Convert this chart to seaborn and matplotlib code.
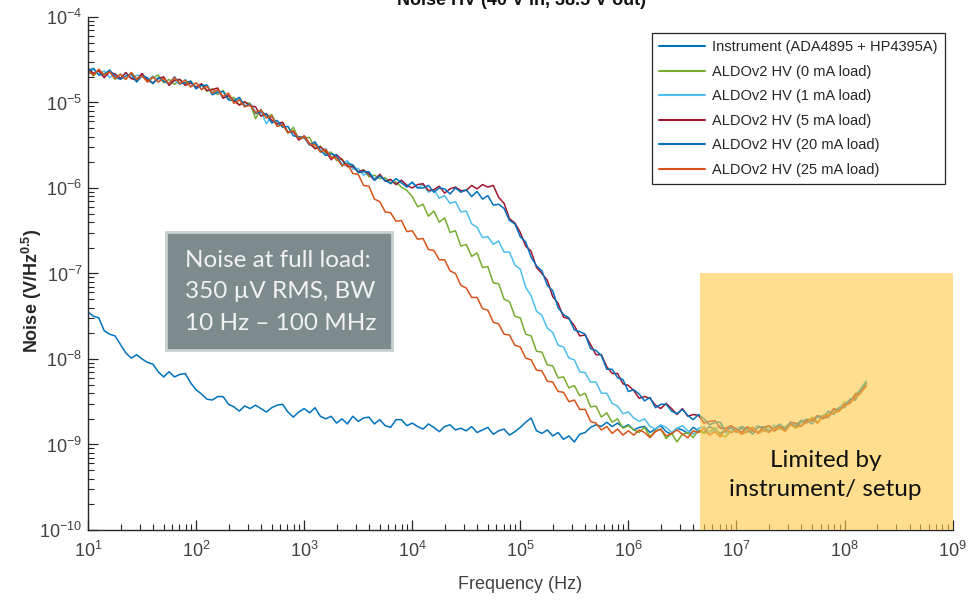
import numpy as np
import pandas as pd
import seaborn as sns
import matplotlib.pyplot as plt
from matplotlib.patches import Rectangle

# log10 of frequency (Hz), one sample every 0.05 decade
freq_exp = [1.00, 1.05, 1.10, 1.15, 1.20, 1.25, 1.30, 1.35, 1.40, 1.45,
            1.50, 1.55, 1.60, 1.65, 1.70, 1.75, 1.80, 1.85, 1.90, 1.95,
            2.00, 2.05, 2.10, 2.15, 2.20, 2.25, 2.30, 2.35, 2.40, 2.45,
            2.50, 2.55, 2.60, 2.65, 2.70, 2.75, 2.80, 2.85, 2.90, 2.95,
            3.00, 3.05, 3.10, 3.15, 3.20, 3.25, 3.30, 3.35, 3.40, 3.45,
            3.50, 3.55, 3.60, 3.65, 3.70, 3.75, 3.80, 3.85, 3.90, 3.95,
            4.00, 4.05, 4.10, 4.15, 4.20, 4.25, 4.30, 4.35, 4.40, 4.45,
            4.50, 4.55, 4.60, 4.65, 4.70, 4.75, 4.80, 4.85, 4.90, 4.95,
            5.00, 5.05, 5.10, 5.15, 5.20, 5.25, 5.30, 5.35, 5.40, 5.45,
            5.50, 5.55, 5.60, 5.65, 5.70, 5.75, 5.80, 5.85, 5.90, 5.95,
            6.00, 6.05, 6.10, 6.15, 6.20, 6.25, 6.30, 6.35, 6.40, 6.45,
            6.50, 6.55, 6.60, 6.65, 6.70, 6.75, 6.80, 6.85, 6.90, 6.95,
            7.00, 7.05, 7.10, 7.15, 7.20, 7.25, 7.30, 7.35, 7.40, 7.45,
            7.50, 7.55, 7.60, 7.65, 7.70, 7.75, 7.80, 7.85, 7.90, 7.95,
            8.00, 8.05, 8.10, 8.15, 8.20]

# log10 of noise density (V/Hz^0.5)
instrument = [-7.45, -7.50, -7.52, -7.67, -7.71, -7.73, -7.83, -7.93, -7.99, -7.95,
              -8.00, -8.04, -8.06, -8.15, -8.21, -8.15, -8.21, -8.18, -8.17, -8.28,
              -8.36, -8.41, -8.47, -8.48, -8.44, -8.44, -8.53, -8.56, -8.61, -8.55,
              -8.58, -8.54, -8.58, -8.62, -8.57, -8.54, -8.53, -8.62, -8.68, -8.62,
              -8.58, -8.63, -8.57, -8.67, -8.70, -8.67, -8.75, -8.70, -8.76, -8.67,
              -8.73, -8.69, -8.68, -8.76, -8.71, -8.78, -8.80, -8.71, -8.71, -8.78,
              -8.75, -8.79, -8.82, -8.76, -8.80, -8.85, -8.79, -8.77, -8.83, -8.81,
              -8.84, -8.79, -8.86, -8.83, -8.80, -8.88, -8.84, -8.82, -8.89, -8.85,
              -8.80, -8.74, -8.69, -8.84, -8.87, -8.83, -8.90, -8.86, -8.94, -8.90,
              -8.97, -8.88, -8.86, -8.80, -8.77, -8.79, -8.74, -8.79, -8.75, -8.80,
              -8.77, -8.83, -8.80, -8.79, -8.86, -8.82, -8.78, -8.85, -8.88, -8.81,
              -8.83, -8.87, -8.80, -8.84, -8.86, -8.79, -8.82, -8.87, -8.83, -8.80,
              -8.84, -8.81, -8.86, -8.83, -8.78, -8.82, -8.85, -8.80, -8.79, -8.83,
              -8.76, -8.77, -8.72, -8.75, -8.70, -8.68, -8.66, -8.68, -8.61, -8.59,
              -8.52, -8.50, -8.42, -8.36, -8.27]
load_0ma = [-4.62, -4.69, -4.62, -4.68, -4.63, -4.73, -4.67, -4.73, -4.65, -4.72,
            -4.68, -4.76, -4.71, -4.68, -4.77, -4.73, -4.79, -4.73, -4.79, -4.75,
            -4.83, -4.79, -4.87, -4.84, -4.91, -4.86, -4.96, -4.94, -5.03, -5.00,
            -5.01, -5.19, -5.08, -5.18, -5.14, -5.26, -5.25, -5.36, -5.29, -5.43,
            -5.41, -5.41, -5.54, -5.51, -5.60, -5.58, -5.68, -5.66, -5.74, -5.73,
            -5.81, -5.79, -5.87, -5.85, -5.89, -5.88, -5.94, -5.93, -5.99, -6.03,
            -6.10, -6.22, -6.19, -6.33, -6.27, -6.40, -6.35, -6.52, -6.50, -6.68,
            -6.66, -6.80, -6.76, -6.93, -6.92, -7.11, -7.12, -7.30, -7.33, -7.50,
            -7.52, -7.71, -7.73, -7.91, -7.92, -8.07, -8.08, -8.22, -8.21, -8.34,
            -8.31, -8.43, -8.40, -8.56, -8.55, -8.68, -8.63, -8.74, -8.70, -8.81,
            -8.78, -8.83, -8.86, -8.80, -8.91, -8.84, -8.82, -8.93, -8.87, -8.97,
            -8.88, -8.86, -8.92, -8.83, -8.87, -8.85, -8.80, -8.89, -8.91, -8.84,
            -8.83, -8.88, -8.81, -8.80, -8.87, -8.84, -8.78, -8.85, -8.80, -8.79,
            -8.76, -8.81, -8.74, -8.73, -8.68, -8.74, -8.66, -8.65, -8.61, -8.59,
            -8.50, -8.52, -8.40, -8.38, -8.28]
load_1ma = [-4.67, -4.61, -4.67, -4.63, -4.71, -4.66, -4.72, -4.65, -4.72, -4.68,
            -4.69, -4.75, -4.69, -4.76, -4.71, -4.79, -4.74, -4.79, -4.73, -4.81,
            -4.77, -4.84, -4.79, -4.89, -4.86, -4.95, -4.91, -4.99, -4.95, -5.05,
            -5.02, -5.11, -5.10, -5.25, -5.16, -5.26, -5.24, -5.35, -5.33, -5.42,
            -5.40, -5.49, -5.48, -5.58, -5.54, -5.64, -5.63, -5.72, -5.68, -5.78,
            -5.77, -5.85, -5.82, -5.89, -5.85, -5.92, -5.90, -5.96, -5.91, -5.97,
            -5.94, -6.00, -5.96, -6.05, -6.02, -6.12, -6.09, -6.18, -6.16, -6.28,
            -6.27, -6.42, -6.46, -6.58, -6.57, -6.66, -6.62, -6.75, -6.75, -6.90,
            -6.95, -7.16, -7.26, -7.44, -7.49, -7.64, -7.69, -7.84, -7.86, -7.99,
            -8.01, -8.15, -8.16, -8.27, -8.27, -8.40, -8.40, -8.52, -8.55, -8.64,
            -8.62, -8.69, -8.73, -8.70, -8.79, -8.82, -8.77, -8.80, -8.86, -8.81,
            -8.78, -8.84, -8.88, -8.81, -8.79, -8.86, -8.83, -8.78, -8.87, -8.84,
            -8.81, -8.79, -8.86, -8.84, -8.78, -8.85, -8.82, -8.77, -8.83, -8.80,
            -8.74, -8.78, -8.75, -8.70, -8.73, -8.67, -8.66, -8.69, -8.60, -8.57,
            -8.52, -8.48, -8.42, -8.35, -8.25]
load_5ma = [-4.60, -4.66, -4.63, -4.71, -4.64, -4.67, -4.72, -4.65, -4.72, -4.74,
            -4.66, -4.74, -4.77, -4.72, -4.70, -4.80, -4.74, -4.73, -4.80, -4.77,
            -4.82, -4.78, -4.86, -4.85, -4.83, -4.95, -4.92, -4.98, -5.03, -4.99,
            -5.04, -5.05, -5.16, -5.13, -5.21, -5.25, -5.23, -5.35, -5.34, -5.44,
            -5.39, -5.48, -5.54, -5.52, -5.57, -5.67, -5.61, -5.67, -5.75, -5.75,
            -5.81, -5.79, -5.84, -5.91, -5.84, -5.92, -5.90, -5.96, -5.91, -5.97,
            -6.00, -5.96, -5.95, -6.03, -6.02, -5.98, -6.06, -6.01, -5.99, -6.03,
            -6.03, -5.97, -6.01, -5.96, -5.99, -5.97, -6.11, -6.18, -6.36, -6.41,
            -6.52, -6.68, -6.74, -6.93, -7.00, -7.08, -7.27, -7.35, -7.51, -7.53,
            -7.61, -7.73, -7.72, -7.83, -7.95, -7.95, -8.09, -8.17, -8.17, -8.29,
            -8.31, -8.37, -8.46, -8.44, -8.46, -8.54, -8.58, -8.52, -8.58, -8.65,
            -8.58, -8.67, -8.65, -8.66, -8.75, -8.73, -8.72, -8.81, -8.81, -8.78,
            -8.82, -8.86, -8.79, -8.84, -8.86, -8.80, -8.78, -8.84, -8.79, -8.83,
            -8.74, -8.75, -8.79, -8.71, -8.72, -8.66, -8.70, -8.67, -8.58, -8.61,
            -8.53, -8.51, -8.42, -8.39, -8.31]
load_20ma = [-4.63, -4.60, -4.68, -4.67, -4.62, -4.70, -4.73, -4.69, -4.67, -4.76,
             -4.69, -4.71, -4.78, -4.71, -4.75, -4.78, -4.70, -4.78, -4.77, -4.75,
             -4.84, -4.80, -4.80, -4.91, -4.88, -4.87, -4.97, -4.98, -4.94, -5.04,
             -5.02, -5.13, -5.11, -5.14, -5.24, -5.21, -5.29, -5.28, -5.39, -5.40,
             -5.41, -5.50, -5.46, -5.56, -5.62, -5.60, -5.62, -5.74, -5.71, -5.73,
             -5.82, -5.81, -5.81, -5.91, -5.86, -5.91, -5.95, -5.89, -5.94, -5.99,
             -5.93, -6.00, -6.00, -5.97, -6.05, -6.00, -6.01, -6.07, -6.00, -6.05,
             -6.02, -6.10, -6.04, -6.13, -6.09, -6.20, -6.19, -6.24, -6.38, -6.42,
             -6.57, -6.63, -6.81, -6.91, -6.97, -7.14, -7.20, -7.40, -7.48, -7.52,
             -7.66, -7.68, -7.71, -7.88, -7.90, -7.96, -8.12, -8.12, -8.22, -8.24,
             -8.38, -8.36, -8.41, -8.49, -8.45, -8.57, -8.53, -8.53, -8.61, -8.64,
             -8.59, -8.66, -8.71, -8.65, -8.70, -8.77, -8.74, -8.74, -8.85, -8.80,
             -8.86, -8.79, -8.82, -8.88, -8.80, -8.79, -8.85, -8.81, -8.76, -8.82,
             -8.75, -8.80, -8.72, -8.72, -8.76, -8.67, -8.69, -8.61, -8.65, -8.57,
             -8.57, -8.47, -8.48, -8.36, -8.28]
load_25ma = [-4.63, -4.68, -4.61, -4.68, -4.64, -4.72, -4.67, -4.73, -4.65, -4.73,
             -4.69, -4.76, -4.70, -4.76, -4.72, -4.78, -4.71, -4.78, -4.74, -4.82,
             -4.77, -4.85, -4.81, -4.89, -4.85, -4.93, -4.89, -5.01, -4.97, -5.05,
             -5.03, -5.12, -5.09, -5.18, -5.16, -5.28, -5.26, -5.35, -5.33, -5.42,
             -5.40, -5.49, -5.49, -5.58, -5.55, -5.64, -5.65, -5.74, -5.72, -5.83,
             -5.84, -5.97, -5.98, -6.13, -6.16, -6.28, -6.29, -6.39, -6.38, -6.51,
             -6.50, -6.60, -6.59, -6.72, -6.73, -6.84, -6.84, -6.97, -7.00, -7.14,
             -7.17, -7.28, -7.28, -7.41, -7.43, -7.57, -7.59, -7.71, -7.72, -7.84,
             -7.86, -7.99, -8.01, -8.13, -8.14, -8.26, -8.27, -8.38, -8.39, -8.50,
             -8.48, -8.59, -8.59, -8.73, -8.75, -8.83, -8.79, -8.87, -8.82, -8.89,
             -8.84, -8.89, -8.83, -8.86, -8.92, -8.85, -8.82, -8.90, -8.87, -8.83,
             -8.88, -8.92, -8.84, -8.86, -8.81, -8.89, -8.85, -8.91, -8.82, -8.86,
             -8.84, -8.88, -8.85, -8.80, -8.87, -8.83, -8.86, -8.81, -8.80, -8.85,
             -8.77, -8.80, -8.78, -8.74, -8.70, -8.75, -8.67, -8.66, -8.63, -8.61,
             -8.55, -8.52, -8.45, -8.40, -8.32]

labels = ["Instrument (ADA4895 + HP4395A)", "ALDOv2 HV (0 mA load)",
          "ALDOv2 HV (1 mA load)", "ALDOv2 HV (5 mA load)",
          "ALDOv2 HV (20 mA load)", "ALDOv2 HV (25 mA load)"]
series = [instrument, load_0ma, load_1ma, load_5ma, load_20ma, load_25ma]
colors = ["#0072BD", "#77AC30", "#4DBEEE", "#A2142F", "#0072BD", "#D95319"]

frames = []
for name, vals in zip(labels, series):
    frames.append(pd.DataFrame({"Frequency (Hz)": 10 ** np.array(freq_exp),
                                "Noise": 10 ** np.array(vals),
                                "Trace": name}))
df = pd.concat(frames, ignore_index=True)

sns.set_style("ticks")
plt.rcParams["font.family"] = ["Liberation Sans", "DejaVu Sans"]
plt.rcParams["mathtext.default"] = "regular"

fig = plt.figure(figsize=(9.78, 6.0), dpi=100)
ax = fig.add_axes([0.090, 0.1167, 0.884, 0.855])

sns.lineplot(data=df, x="Frequency (Hz)", y="Noise", hue="Trace", hue_order=labels,
             palette=colors, linewidth=1.1, estimator=None, ax=ax)

ax.set_xscale("log")
ax.set_yscale("log")
ax.set_xlim(1e1, 1e9)
ax.set_ylim(1e-10, 1e-4)

ax.set_xlabel("Frequency (Hz)", fontsize=13, color="#404040", labelpad=11)
ax.set_ylabel("Noise (V/Hz$^{0.5}$)", fontsize=13, color="#262626", fontweight="bold")
ax.yaxis.set_label_coords(-0.051, 0.466)

sns.despine(ax=ax)
for s in ["left", "bottom"]:
    ax.spines[s].set_color("#262626")
    ax.spines[s].set_linewidth(1.0)
ax.tick_params(which="major", direction="in", length=7, width=0.9, colors="#262626",
               labelsize=13, labelcolor="#404040")
ax.tick_params(which="minor", direction="in", length=4, width=0.8, colors="#262626")
ax.tick_params(axis="x", which="major", pad=8)
ax.tick_params(axis="y", which="major", pad=4)

# yellow "limited by instrument" region, drawn over the traces
ax.add_patch(Rectangle((4.6e6, 1e-10), 1e9 - 4.6e6, 1e-7 - 1e-10,
                       facecolor="#FFCB44", alpha=0.6, edgecolor="none", zorder=3))
ax.text(6.7e7, 4.4e-10, "Limited by\ninstrument/ setup", ha="center", va="center",
        fontsize=17.5, family=["Lato", "DejaVu Sans"], color="#111111",
        linespacing=1.5, zorder=4)

# grey annotation box
fig.add_artist(Rectangle((166 / 978, 1 - 350 / 600), 226 / 978, 118 / 600,
                         transform=fig.transFigure, facecolor="#7D8B8C",
                         edgecolor="#C8D0D0", linewidth=2))
fig.text(185 / 978, 1 - 292 / 600, "Noise at full load:\n350 µV RMS, BW\n10 Hz – 100 MHz",
         ha="left", va="center", fontsize=17.5, family=["Lato", "DejaVu Sans"],
         color="#F2F2F2", linespacing=1.62)

handles, labs = ax.get_legend_handles_labels()
for h in handles:
    h.set_linewidth(1.5)
leg = ax.legend(handles, labs, loc="upper right", bbox_to_anchor=(0.991, 0.969),
                borderaxespad=0, fontsize=10.5, frameon=True, fancybox=False,
                edgecolor="#262626", handlelength=3.1, handletextpad=0.5,
                labelspacing=0.72, borderpad=0.5, framealpha=1)
leg.get_frame().set_linewidth(0.9)
leg.set_zorder(5)
for t in leg.get_texts():
    t.set_color("#262626")

fig.text(0.533, 1 - 5 / 600, "Noise HV (40 V in, 38.5 V out)", ha="center",
         va="baseline", fontsize=13, fontweight="bold", color="#111111")

fig.savefig("out.png", dpi=100)
